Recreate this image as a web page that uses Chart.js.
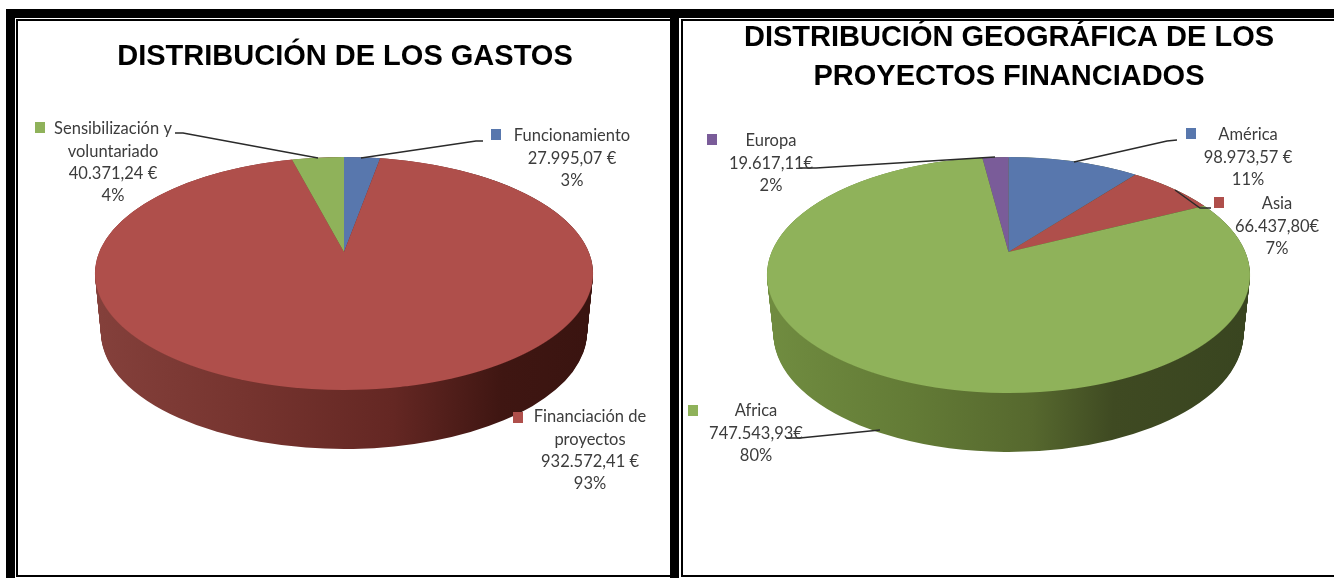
<!DOCTYPE html>
<html>
<head>
<meta charset="utf-8">
<title>Distribución</title>
<script src="https://cdn.jsdelivr.net/npm/chart.js@4"></script>
<style>
html, body { margin:0; padding:0; background:#fff; overflow:hidden; }
.bar { position:absolute; background:#000; }
canvas { position:absolute; top:21px; }
</style>
</head>
<body>
<!-- marco -->
<div class="bar" style="left:6px;top:9px;width:1328px;height:9px"></div>
<div class="bar" style="left:6px;top:9px;width:9px;height:569px"></div>
<div class="bar" style="left:670px;top:9px;width:9px;height:569px"></div>
<div class="bar" style="left:16px;top:19px;width:654px;height:2px"></div>
<div class="bar" style="left:681px;top:19px;width:653px;height:2px"></div>
<div class="bar" style="left:16px;top:19px;width:2px;height:558px"></div>
<div class="bar" style="left:681px;top:19px;width:2px;height:558px"></div>
<div class="bar" style="left:16px;top:575px;width:654px;height:2px"></div>
<div class="bar" style="left:681px;top:575px;width:653px;height:2px"></div>
<canvas id="gastos" width="650" height="554" style="left:20px"></canvas>
<canvas id="geo" width="650" height="554" style="left:684px"></canvas>
<script>
// datos: distribución de los gastos
const gastosLabels = [['Funcionamiento'], ['Financiación de', 'proyectos'], ['Sensibilización y', 'voluntariado']];
const gastosValues = [27995.07, 932572.41, 40371.24];
const gastosValueText = ['27.995,07 €', '932.572,41 €', '40.371,24 €'];
const gastosPct = ['3%', '93%', '4%'];
const gastosColors = ['#5877ad', '#af4f4b', '#8fb25a'];

// datos: distribución geográfica
const geoLabels = [['América'], ['Asia'], ['Africa'], ['Europa']];
const geoValues = [98973.57, 66437.80, 747543.93, 19617.11];
const geoValueText = ['98.973,57 €', '66.437,80€', '747.543,93€', '19.617,11€'];
const geoPct = ['11%', '7%', '80%', '2%'];
const geoColors = ['#5877ad', '#af4f4b', '#8fb25a', '#7a5c99'];

// geometría de cada tarta en coordenadas de página
const gastosLayout = {
  ox: 20, oy: 21,
  cx: 344, apexY: 252, top: 157, bottom: 390, rx: 249,
  depth: 59, rxBottom: 243,
  sideStops: [[0, '#84403b'], [0.3, '#76342f'], [0.6, '#642723'], [0.82, '#3f1612'], [1, '#3a1410']],
  textX: [572, 590, 113], textY: [136, 417, 129],
  keys: [[491, 129], [513, 412], [35, 122]],
  leaders: [
    [[483, 141], [476, 141], [361, 158]],
    [[175, 133], [183, 133], [318, 158]]
  ]
};
const geoLayout = {
  ox: 684, oy: 21,
  cx: 1008.5, apexY: 252, top: 157, bottom: 393, rx: 241.5,
  depth: 59, rxBottom: 235,
  sideStops: [[0, '#708c40'], [0.3, '#637b36'], [0.55, '#56682e'], [0.72, '#3f4a22'], [1, '#394520']],
  textX: [1248, 1277, 756, 771], textY: [135, 204, 411, 141],
  keys: [[1186, 128], [1214, 197], [688, 405], [707, 134]],
  leaders: [
    [[1177, 140], [1167, 141], [1074, 162]],
    [[1211, 208], [1200, 208], [1175, 190]],
    [[786, 438], [800, 438], [880, 430]],
    [[800, 168], [816, 168], [995, 157]]
  ]
};

// dibuja la cara lateral y la cara superior en perspectiva con los arcos del propio chart
const pie3d = {
  id: 'pie3d',
  beforeDatasetsDraw(chart, args, opts) {
    const g = opts.layout;
    const ctx = chart.ctx;
    const arcs = chart.getDatasetMeta(0).data;
    const x0 = arcs[0].x, y0 = arcs[0].y, R = arcs[0].outerRadius;
    const up = g.apexY - g.top, down = g.bottom - g.apexY;
    const ry = (g.bottom - g.top) / 2;
    const midY = (g.top + g.bottom) / 2;

    // lateral
    const grad = ctx.createLinearGradient(x0 - R, 0, x0 + R, 0);
    g.sideStops.forEach(s => grad.addColorStop(s[0], s[1]));
    for (let d = g.depth; d >= 0; d--) {
      const rx = g.rx + (g.rxBottom - g.rx) * d / g.depth;
      const a = rx / R, e = ry / R;
      ctx.save();
      ctx.setTransform(a, 0, 0, e, g.cx - g.ox - a * x0, midY + d - g.oy - e * y0);
      arcs.forEach(arc => {
        const o = arc.options;
        arc.options = Object.assign({}, o, { backgroundColor: grad });
        arc.draw(ctx);
        arc.options = o;
      });
      ctx.restore();
    }

    // cara superior, fila a fila
    const k = (down - up) / (down + up);
    const B = up * (1 + k);
    const Yc = (down - up) / 2;
    const A = g.rx * B / Math.sqrt((B + k * Yc) * (B + k * Yc) - Yc * Yc);
    for (let y = g.top - 1; y <= g.bottom + 1; y++) {
      const Y = y + 0.5 - g.apexY;
      const v = Y / (B + k * Y);
      const w = 1 - k * v;
      const a = A / (R * w), e = B / (R * w * w);
      ctx.save();
      ctx.beginPath();
      ctx.rect(0, y - g.oy, chart.width, 1);
      ctx.clip();
      ctx.setTransform(a, 0, 0, e, g.cx - g.ox - a * x0, y + 0.5 - g.oy - e * (y0 + R * v));
      arcs.forEach(arc => arc.draw(ctx));
      ctx.restore();
    }
    return false;
  },
  afterDraw(chart, args, opts) {
    const g = opts.layout;
    const ctx = chart.ctx;
    ctx.save();
    ctx.translate(-g.ox, -g.oy);

    ctx.strokeStyle = '#2a2a2a';
    ctx.lineWidth = 1.4;
    g.leaders.forEach(l => {
      ctx.beginPath();
      l.forEach((p, i) => i ? ctx.lineTo(p[0], p[1]) : ctx.moveTo(p[0], p[1]));
      ctx.stroke();
    });

    ctx.font = '16.5px Lato';
    ctx.textAlign = 'center';
    ctx.textBaseline = 'middle';
    opts.labels.forEach((lab, i) => {
      ctx.fillStyle = opts.colors[i];
      ctx.fillRect(g.keys[i][0], g.keys[i][1], 10, 11);
      ctx.fillStyle = '#3c3c3c';
      const lines = lab.concat([opts.valueText[i], opts.pct[i]]);
      lines.forEach((t, j) => ctx.fillText(t, g.textX[i], g.textY[i] + j * 22.3));
    });
    ctx.restore();
  }
};

function makePie(id, labels, values, colors, valueText, pct, layout, title, pad, lineHeight) {
  return new Chart(document.getElementById(id), {
    type: 'pie',
    data: { labels: labels, datasets: [{ data: values, backgroundColor: colors, borderWidth: 0 }] },
    plugins: [pie3d],
    options: {
      responsive: false,
      animation: false,
      plugins: {
        legend: { display: false },
        tooltip: { enabled: false },
        title: {
          display: true, text: title, color: '#000',
          padding: { top: pad, bottom: 10 },
          font: { family: 'Liberation Sans', weight: 'bold', size: 29, lineHeight: lineHeight }
        },
        pie3d: { layout: layout, labels: labels, colors: colors, valueText: valueText, pct: pct }
      }
    }
  });
}

makePie('gastos', gastosLabels, gastosValues, gastosColors, gastosValueText, gastosPct, gastosLayout,
  'DISTRIBUCIÓN DE LOS GASTOS', 19, 1.2);
makePie('geo', geoLabels, geoValues, geoColors, geoValueText, geoPct, geoLayout,
  ['DISTRIBUCIÓN GEOGRÁFICA DE LOS', 'PROYECTOS FINANCIADOS'], -3, 1.362);
</script>
</body>
</html>
